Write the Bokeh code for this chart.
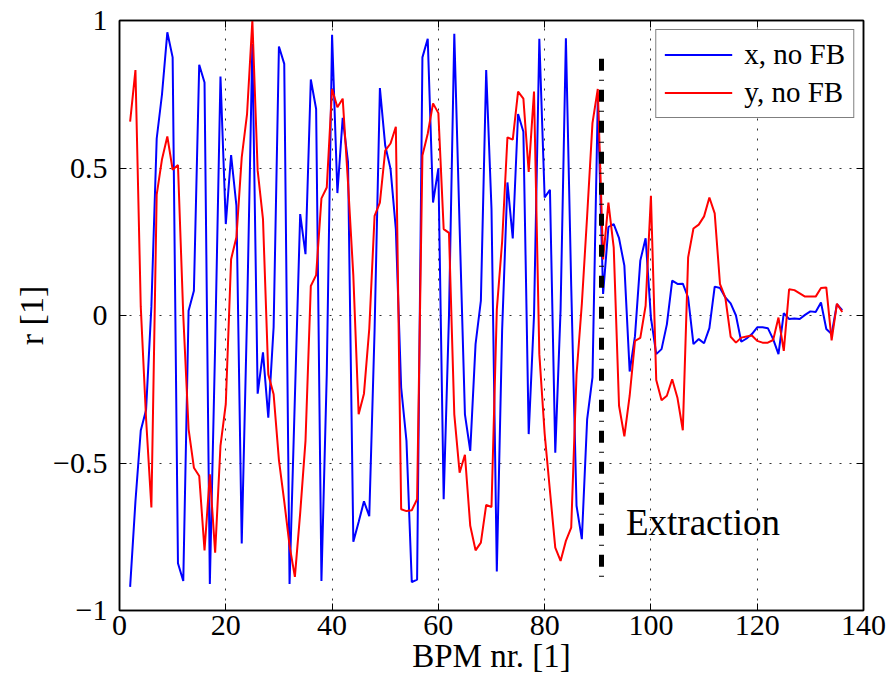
from bokeh.plotting import figure
from bokeh.models import Range1d, LinearAxis, Label, FixedTicker, CustomJSTickFormatter
from bokeh.embed import file_html
from bokeh.resources import INLINE

# ---- data -------------------------------------------------------------
bpm = list(range(2, 137))

r_x_nofb = [
    -0.92, -0.63, -0.39, -0.32, 0.03, 0.60, 0.75, 0.96, 0.875, -0.84,
    -0.90, 0.016, 0.084, 0.85, 0.79, -0.91, -0.10, 0.81, 0.31, 0.544,
    0.372, -0.773, 0.00, 0.92, -0.265, -0.125, -0.346, -0.04, 0.912, 0.853,
    -0.91, -0.28, 0.344, 0.208, 0.80, 0.70, -0.90, -0.20, 0.952, 0.415,
    0.67, 0.52, -0.767, -0.70, -0.63, -0.68, -0.05, 0.771, 0.576, 0.497,
    0.293, -0.244, -0.425, -0.904, -0.895, 0.875, 0.938, 0.383, 0.499, -0.623,
    0.00, 0.955, 0.30, -0.335, -0.459, -0.097, 0.05, 0.832, 0.361, -0.868,
    -0.05, 0.451, 0.261, 0.683, 0.623, -0.402, 0.00, 0.938, 0.40, 0.426,
    -0.465, 0.02, 0.94, 0.10, -0.645, -0.758, -0.351, -0.21, 0.73, 0.073,
    0.30, 0.31, 0.262, 0.169, -0.19, -0.07, 0.186, 0.262, -0.007, -0.131,
    -0.114, -0.03, 0.118, 0.107, 0.108, 0.061, -0.097, -0.08, -0.094, -0.043,
    0.098, 0.093, 0.061, 0.041, 0.00, -0.089, -0.078, -0.063, -0.04, -0.04,
    -0.043, -0.08, -0.131, 0.008, -0.012, -0.01, -0.012, 0.002, 0.014, 0.012,
    0.044, -0.046, -0.063, 0.038, 0.018,
]

r_y_nofb = [
    0.657, 0.832, 0.03, -0.35, -0.651, 0.41, 0.53, 0.607, 0.494, 0.51,
    0.00, -0.385, -0.516, -0.544, -0.796, -0.538, -0.804, -0.442, -0.30, 0.191,
    0.265, 0.536, 0.683, 1.00, 0.491, 0.327, -0.20, -0.267, -0.49, -0.63,
    -0.78, -0.886, -0.67, -0.425, 0.10, 0.137, 0.397, 0.434, 0.768, 0.706,
    0.735, 0.45, 0.135, -0.335, -0.265, -0.045, 0.338, 0.383, 0.559, 0.583,
    0.64, -0.657, -0.663, -0.66, -0.623, 0.542, 0.616, 0.719, 0.686, 0.293,
    0.28, -0.335, -0.533, -0.472, -0.713, -0.796, -0.77, -0.642, -0.649, 0.02,
    0.25, 0.604, 0.596, 0.759, 0.735, 0.487, 0.759, -0.131, -0.40, -0.595,
    -0.787, -0.832, -0.764, -0.719, -0.20, 0.04, 0.338, 0.652, 0.768, 0.19,
    0.383, 0.23, -0.306, -0.41, -0.272, -0.086, -0.076, 0.033, 0.406, -0.219,
    -0.287, -0.272, -0.216, -0.28, -0.389, 0.197, 0.295, 0.308, 0.336, 0.40,
    0.346, 0.106, 0.061, -0.072, -0.092, -0.075, -0.071, -0.068, -0.086, -0.092,
    -0.092, -0.083, -0.007, -0.12, 0.089, 0.086, 0.075, 0.064, 0.064, 0.064,
    0.093, 0.095, -0.084, 0.04, 0.012,
]

series_labels = ["x, no FB", "y, no FB"]
series_colors = ["#0000ff", "#ff0000"]

x_ticks = [0, 20, 40, 60, 80, 100, 120, 140]
y_ticks = [-1, -0.5, 0, 0.5, 1]

extraction_bpm = 90.7
extraction_span = [0.87, -0.90]
extraction_text = "Extraction"
extraction_text_pos = (95.3, -0.70)

x_label = "BPM nr. [1]"
y_label = "r [1]"

FONT = "Liberation Serif"

# ---- figure -----------------------------------------------------------
p = figure(width=891, height=685, output_backend="svg", toolbar_location=None,
           x_range=Range1d(0, 140), y_range=Range1d(-1, 1),
           min_border_left=119, min_border_right=28,
           min_border_top=20, min_border_bottom=75,
           background_fill_color="white", border_fill_color="white")

p.outline_line_color = "black"
p.outline_line_width = 1.5

fmt = CustomJSTickFormatter(code="""
const a = Math.abs(tick);
const s = (Math.round(a * 10) / 10).toString();
return (tick < 0 ? "\\u2212" : "") + s;
""")
blank = CustomJSTickFormatter(code="return '';")

def style_axis(ax, ticks, formatter, show):
    ax.ticker = FixedTicker(ticks=ticks, minor_ticks=[])
    ax.formatter = formatter
    ax.major_tick_in = 7
    ax.major_tick_out = 0
    ax.minor_tick_in = 0
    ax.minor_tick_out = 0
    ax.major_tick_line_color = "black"
    ax.major_tick_line_width = 1
    ax.axis_line_color = "black"
    ax.axis_line_width = 1.5
    if show:
        ax.major_label_text_font = FONT
        ax.major_label_text_font_size = "30px"
        ax.major_label_text_color = "black"
        ax.axis_label_text_font = FONT
        ax.axis_label_text_font_style = "normal"
        ax.axis_label_text_color = "black"
    else:
        ax.major_label_text_font_size = "1px"
        ax.major_label_standoff = 0

style_axis(p.xaxis[0], x_ticks, fmt, True)
style_axis(p.yaxis[0], y_ticks, fmt, True)
p.xaxis[0].major_label_standoff = 5
p.xaxis[0].axis_label = x_label
p.xaxis[0].axis_label_standoff = 0
p.xaxis[0].axis_label_text_font_size = "33px"
p.yaxis[0].major_label_standoff = 12
p.yaxis[0].axis_label = y_label
p.yaxis[0].axis_label_standoff = 0
p.yaxis[0].axis_label_text_font_size = "34px"

top_ax = LinearAxis()
right_ax = LinearAxis()
style_axis(top_ax, x_ticks, blank, False)
style_axis(right_ax, y_ticks, blank, False)
p.add_layout(top_ax, "above")
p.add_layout(right_ax, "right")

for g in (p.xgrid[0], p.ygrid[0]):
    g.grid_line_color = "#333333"
    g.grid_line_width = 1
    g.grid_line_dash = "2 8"
p.xgrid[0].ticker = FixedTicker(ticks=x_ticks[1:-1], minor_ticks=[])
p.ygrid[0].ticker = FixedTicker(ticks=y_ticks[1:-1], minor_ticks=[])

# ---- data lines --------------------------------------------------------
p.line(bpm, r_x_nofb, line_color=series_colors[0], line_width=2,
       legend_label=series_labels[0])
p.line(bpm, r_y_nofb, line_color=series_colors[1], line_width=2,
       legend_label=series_labels[1])

# extraction marker
p.line([extraction_bpm, extraction_bpm], extraction_span, line_color="black",
       line_width=5, line_dash="12 9 1 9")
p.add_layout(Label(x=extraction_text_pos[0], y=extraction_text_pos[1],
                   text=extraction_text, text_font=FONT, text_font_size="37px",
                   text_align="left", text_baseline="middle", text_color="black"))

# legend
lg = p.legend[0]
lg.location = "top_right"
lg.margin = 9
lg.padding = 8
lg.spacing = 5
lg.border_line_color = "black"
lg.border_line_width = 1
lg.background_fill_color = "white"
lg.background_fill_alpha = 1
lg.label_text_font = FONT
lg.label_text_font_size = "29px"
lg.label_text_color = "black"
lg.glyph_width = 68
lg.glyph_height = 27
lg.label_height = 27
lg.label_standoff = 12

open("out.html", "w").write(file_html(p, INLINE))
